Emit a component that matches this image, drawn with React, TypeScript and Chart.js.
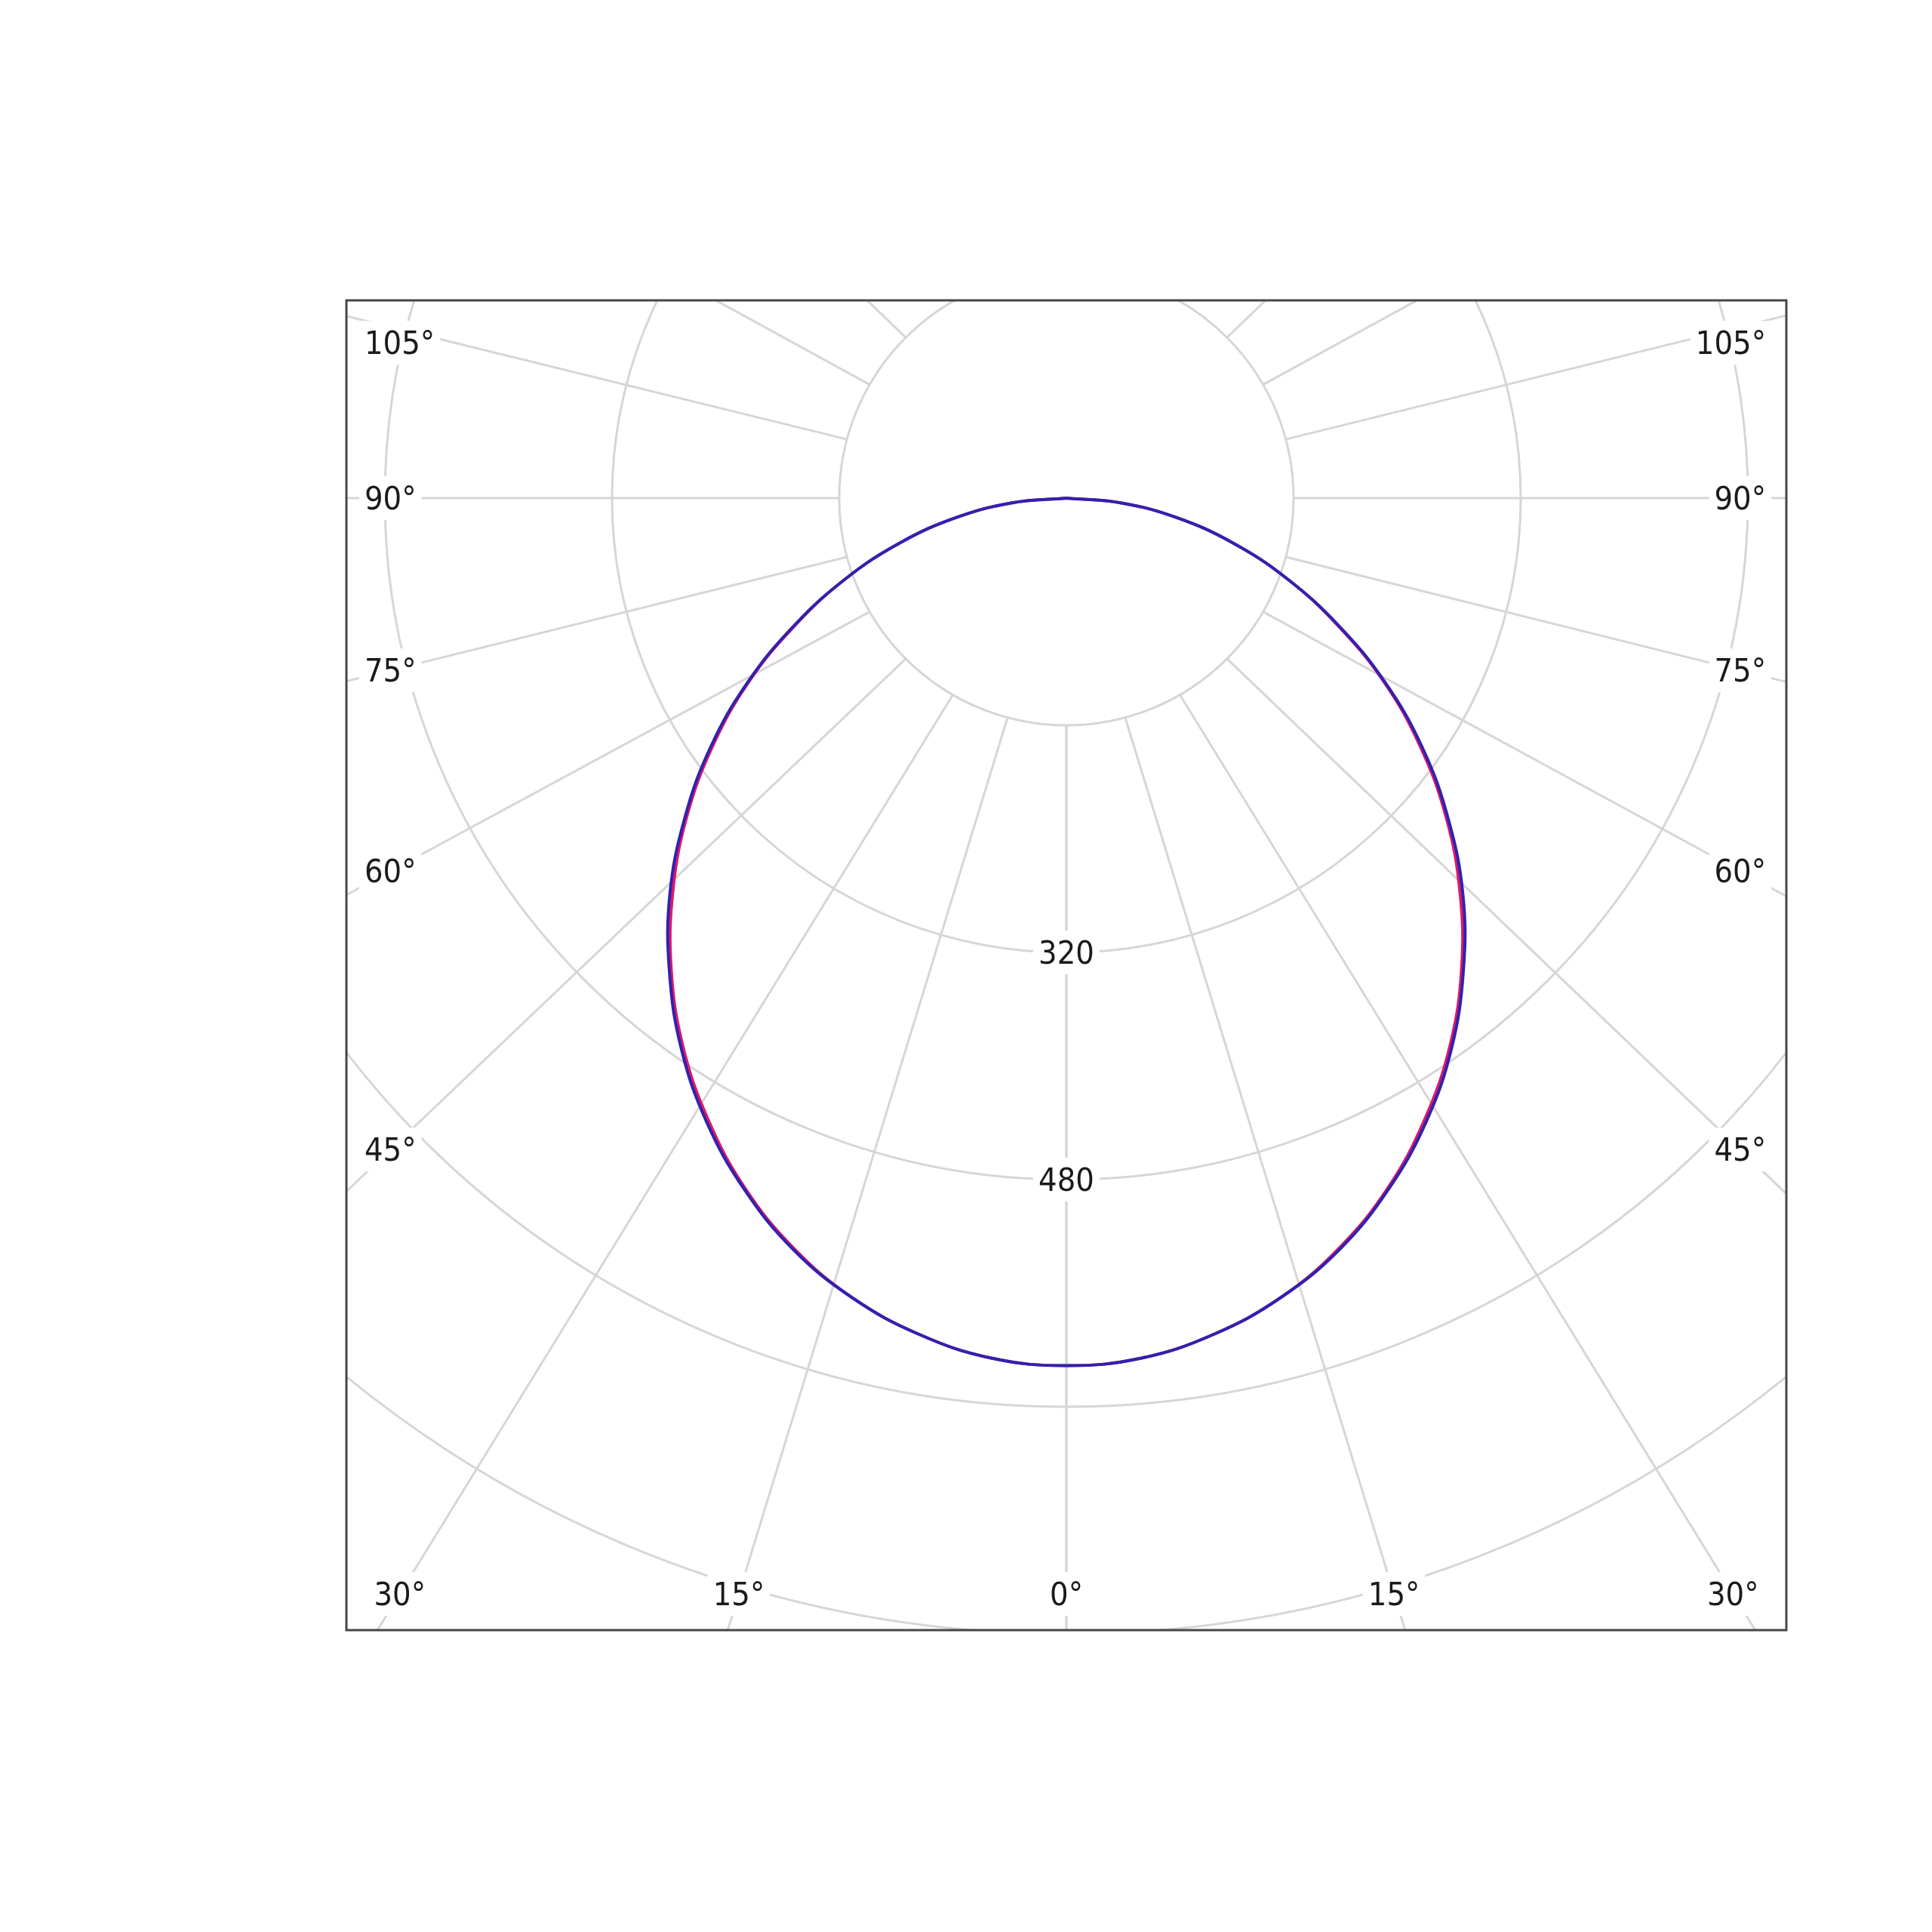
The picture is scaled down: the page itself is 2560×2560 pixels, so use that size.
import React, { useEffect, useRef } from "react";
import { Chart, registerables } from "chart.js";

Chart.register(...registerables);

// Polar angles (degrees from nadir) and luminous intensity readings (cd/klm)
const ANGLES = [0, 5, 10, 15, 20, 25, 30, 35, 40, 45, 50, 55, 60, 65, 70, 75, 80, 85, 90];
// C0 / C180 half-planes (red)
const C0 = [611, 608, 598, 583, 562, 536, 505, 471, 433, 392, 349, 304, 258, 210, 165, 121, 79, 39, 0];
const C180 = [611, 608, 598, 583, 562, 536, 505, 471, 433, 392, 349, 304, 258, 210, 165, 121, 79, 39, 0];
// C90 / C270 half-planes (blue)
const C90 = [611, 608, 598, 583, 563, 537, 507, 473, 435, 395, 351, 306, 259, 211, 165, 121, 79, 39, 0];
const C270 = [611, 608, 598, 583, 563, 537, 507, 473, 435, 395, 351, 306, 259, 211, 165, 121, 79, 39, 0];

const RING_VALUES = [160, 320, 480, 640, 800, 960];
const RING_LABELS = [320, 480];
const RAY_ANGLES = [0, 15, 30, 45, 60, 75, 90, 105, 120, 135, 150, 165, 180];
const SIDE_LABEL_ANGLES = [45, 60, 75, 90, 105];
const BOTTOM_LABEL_ANGLES = [0, 15, 30];

const X_MIN = -507.1;
const X_MAX = 507.1;
const Y_MIN = -797.3;
const Y_MAX = 139.3;

const FONT = "43px 'DejaVu Sans Condensed', 'Liberation Sans', sans-serif";
const GRID_COLOR = "#d6d6d6";

function halfCurve(values: number[], side: number) {
  return ANGLES.map((a, i) => {
    const rad = (a * Math.PI) / 180;
    return { x: side * values[i] * Math.sin(rad), y: -values[i] * Math.cos(rad) };
  });
}

function fullCurve(left: number[], right: number[]) {
  const l = halfCurve(left, -1).reverse();
  const r = halfCurve(right, 1).slice(1);
  return [...l, ...r];
}

type LabelPos = { text: string; x: number; y: number; align: "left" | "center" | "right"; cx: number; cy: number };

function drawLabel(ctx: CanvasRenderingContext2D, L: LabelPos) {
  ctx.font = FONT;
  const w = ctx.measureText(L.text).width;
  const left = L.align === "left" ? L.x : L.align === "right" ? L.x - w : L.x - w / 2;
  ctx.fillStyle = "#ffffff";
  ctx.fillRect(left - 7, L.y - 29, w + 14, 58);
  ctx.fillStyle = "#1a1a1a";
  ctx.textAlign = L.align;
  ctx.textBaseline = "middle";
  ctx.fillText(L.text, L.x, L.y + 4);
}

const polarGrid = {
  id: "polarGrid",
  beforeDatasetsDraw(chart: any) {
    const { ctx, chartArea, scales } = chart;
    const xs = scales.x;
    const ys = scales.y;
    const cx = xs.getPixelForValue(0);
    const cy = ys.getPixelForValue(0);
    const sx = xs.getPixelForValue(1) - cx;
    const sy = cy - ys.getPixelForValue(1);

    ctx.save();
    ctx.font = FONT;

    // angle label placement
    const labels: Record<string, LabelPos> = {};
    SIDE_LABEL_ANGLES.forEach((a) => {
      const rad = (a * Math.PI) / 180;
      [-1, 1].forEach((s) => {
        const text = a + "°";
        const w = ctx.measureText(text).width;
        const ref = s < 0 ? chartArea.left + 59 : chartArea.right - 59;
        const dx = Math.abs(ref - cx);
        const dy = (dx * Math.cos(rad)) / Math.sin(rad);
        const off = a > 90 ? 34 : -45 * Math.cos(rad);
        const y = cy + dy + off;
        if (s < 0) {
          const x = chartArea.left + 24;
          labels[a + ":" + s] = { text, x, y, align: "left", cx: x + w / 2, cy: a > 90 ? y - 18 : y };
        } else {
          const x = chartArea.right - 27;
          labels[a + ":" + s] = { text, x, y, align: "right", cx: x - w / 2, cy: a > 90 ? y - 18 : y };
        }
      });
    });
    BOTTOM_LABEL_ANGLES.forEach((a) => {
      const rad = (a * Math.PI) / 180;
      const py = chartArea.bottom - 48;
      const dy = py - cy;
      [-1, 1].forEach((s) => {
        const px = cx + s * dy * Math.tan(rad) + (a === 0 ? 0 : s * 45);
        labels[a + ":" + s] = { text: a + "°", x: px, y: py, align: "center", cx: px, cy: py };
      });
    });

    ctx.beginPath();
    ctx.rect(chartArea.left, chartArea.top, chartArea.right - chartArea.left, chartArea.bottom - chartArea.top);
    ctx.clip();
    ctx.strokeStyle = GRID_COLOR;
    ctx.lineWidth = 3;

    RING_VALUES.forEach((r) => {
      ctx.beginPath();
      ctx.ellipse(cx, cy, r * sx, r * sy, 0, 0, Math.PI * 2);
      ctx.stroke();
    });

    // spokes: from the inner ring towards their labels (or radially where unlabelled)
    const r0 = RING_VALUES[0];
    const len = 3000;
    RAY_ANGLES.forEach((a) => {
      const rad = (a * Math.PI) / 180;
      [-1, 1].forEach((s) => {
        const x0 = cx + s * Math.sin(rad) * r0 * sx;
        const y0 = cy + Math.cos(rad) * r0 * sy;
        const L = labels[a + ":" + s];
        let ux: number;
        let uy: number;
        if (L && a !== 0) {
          const d = Math.hypot(L.cx - x0, L.cy - y0);
          ux = (L.cx - x0) / d;
          uy = (L.cy - y0) / d;
        } else {
          const skew = a > 90 && a < 180 ? -1.5 * Math.sin(rad) : 0;
          const phi = ((a + skew) * Math.PI) / 180;
          ux = s * Math.sin(phi);
          uy = Math.cos(phi);
        }
        ctx.beginPath();
        ctx.moveTo(x0, y0);
        ctx.lineTo(x0 + ux * len, y0 + uy * len);
        ctx.stroke();
      });
    });

    // ring value labels
    RING_LABELS.forEach((v) => {
      drawLabel(ctx, { text: String(v), x: cx, y: cy + v * sy, align: "center", cx, cy });
    });

    // angle labels
    Object.keys(labels).forEach((k) => {
      if (k === "0:-1") return;
      drawLabel(ctx, labels[k]);
    });

    ctx.restore();
  },
  afterDraw(chart: any) {
    const { ctx, chartArea } = chart;
    ctx.save();
    ctx.strokeStyle = "#474747";
    ctx.lineWidth = 3;
    ctx.strokeRect(chartArea.left, chartArea.top, chartArea.right - chartArea.left, chartArea.bottom - chartArea.top);
    ctx.restore();
  },
};

export default function App() {
  const ref = useRef<HTMLCanvasElement | null>(null);

  useEffect(() => {
    if (!ref.current) return;
    const chart = new Chart(ref.current, {
      type: "scatter",
      data: {
        datasets: [
          {
            label: "C90 - C270",
            data: fullCurve(C270, C90),
            showLine: true,
            borderColor: "#2f22b0",
            borderWidth: 4,
            pointRadius: 0,
            tension: 0.4,
            fill: false,
            order: 0,
          },
          {
            label: "C0 - C180",
            data: fullCurve(C180, C0),
            showLine: true,
            borderColor: "#e0186a",
            borderWidth: 4,
            pointRadius: 0,
            tension: 0.4,
            fill: false,
            order: 1,
          },
        ],
      },
      options: {
        animation: false,
        responsive: false,
        devicePixelRatio: 1,
        layout: { padding: { left: 451, top: 390, right: 185, bottom: 392 } },
        plugins: { legend: { display: false }, tooltip: { enabled: false } },
        scales: {
          x: { type: "linear", min: X_MIN, max: X_MAX, display: false },
          y: { type: "linear", min: Y_MIN, max: Y_MAX, display: false },
        },
      },
      plugins: [polarGrid],
    });
    return () => chart.destroy();
  }, []);

  return <canvas ref={ref} width={2544} height={2544} style={{ display: "block" }} />;
}
